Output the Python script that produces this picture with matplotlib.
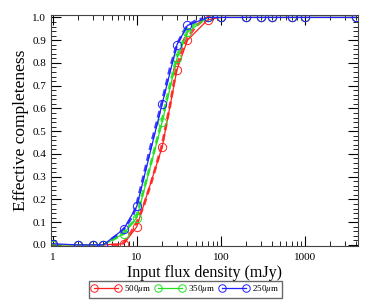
import matplotlib
matplotlib.use("Agg")
import matplotlib.pyplot as plt
from matplotlib.ticker import MultipleLocator, LogLocator, NullFormatter, FixedLocator, FixedFormatter, FormatStrFormatter

plt.rcParams['font.family'] = ['Liberation Serif', 'DejaVu Serif']
plt.rcParams['mathtext.fontset'] = 'stix'

flux = [1, 2, 3, 4, 7, 10, 20, 30, 40, 70, 100, 200, 300, 400, 700, 1000, 4000]
c500 = [0.0, 0.0, 0.0, 0.0, 0.005, 0.08, 0.43, 0.77, 0.90, 0.99, 1.0, 1.0, 1.0, 1.0, 1.0, 1.0, 1.0]
c350 = [0.0, 0.0, 0.0, 0.0, 0.05, 0.12, 0.54, 0.82, 0.935, 1.0, 1.0, 1.0, 1.0, 1.0, 1.0, 1.0, 1.0]
c250 = [0.005, 0.0, 0.0, 0.0, 0.07, 0.17, 0.62, 0.88, 0.965, 1.0, 1.0, 1.0, 1.0, 1.0, 1.0, 1.0, 1.0]

# thick dashed realisation curves
dflux = [5, 6, 7, 8, 9, 10, 12, 15, 20, 25, 30, 35, 40, 50, 60]
d500 = [0.0, 0.0, 0.01, 0.04, 0.07, 0.10, 0.17, 0.28, 0.44, 0.62, 0.79, 0.86, 0.91, 0.96, 0.985]
d350 = [0.02, 0.035, 0.05, 0.08, 0.10, 0.13, 0.24, 0.37, 0.55, 0.71, 0.83, 0.89, 0.94, 0.975, 0.99]
d250 = [0.025, 0.045, 0.07, 0.10, 0.13, 0.18, 0.30, 0.45, 0.63, 0.78, 0.88, 0.93, 0.965, 0.985, 0.995]

labels = ['500$\\mu$m', '350$\\mu$m', '250$\\mu$m']
colors = ['#ff2020', '#20e020', '#2020ff']

fig = plt.figure(figsize=(3.74, 3.03), dpi=100)
ax = fig.add_axes([0.136, 0.188, 0.822, 0.762])

for d, c in zip([d500, d350, d250], colors):
    ax.plot(dflux, d, color=c, lw=2.0, ls=(0, (2.5, 1.5)), alpha=0.85, zorder=2)

handles = []
for y, c, lab in zip([c500, c350, c250], colors, labels):
    h, = ax.plot(flux, y, color=c, lw=0.9, marker='o', ms=6, mfc='none',
                 mec=c, mew=0.7, label=lab, zorder=3)
    handles.append(h)

ax.set_xscale('log')
ax.set_xlim(0.95, 4300)
ax.set_ylim(-0.005, 1.01)

ax.yaxis.set_major_locator(MultipleLocator(0.1))
ax.yaxis.set_minor_locator(MultipleLocator(0.02))
ax.yaxis.set_major_formatter(FormatStrFormatter('%.1f'))
ax.xaxis.set_major_locator(FixedLocator([1, 10, 100, 1000]))
ax.xaxis.set_major_formatter(FixedFormatter(['1', '10', '100', '1000']))
ax.xaxis.set_minor_locator(LogLocator(base=10, subs=range(2, 10), numticks=20))
ax.xaxis.set_minor_formatter(NullFormatter())

ax.tick_params(which='both', direction='in', top=True, right=True, labelsize=8)
ax.tick_params(which='major', length=7, width=0.8)
ax.tick_params(which='minor', length=3.5, width=0.6)
ax.tick_params(axis='x', which='major', pad=5)
for s in ax.spines.values():
    s.set_linewidth(0.8)
    s.set_color('#444444')

ax.set_xlabel('Input flux density (mJy)', fontsize=11.5, labelpad=2)
ax.set_ylabel('Effective completeness', fontsize=12.5, labelpad=2)

leg = fig.legend(handles=handles, loc='center', bbox_to_anchor=(0.495, 0.045),
                 ncol=3, fontsize=6.5, numpoints=2, frameon=True, fancybox=False,
                 handlelength=3.2, columnspacing=0.5, handletextpad=0.4,
                 borderpad=0.3, markerscale=0.9)
leg.get_frame().set_edgecolor('#444444')
leg.get_frame().set_linewidth(1.0)

fig.savefig('out.png', dpi=100)
